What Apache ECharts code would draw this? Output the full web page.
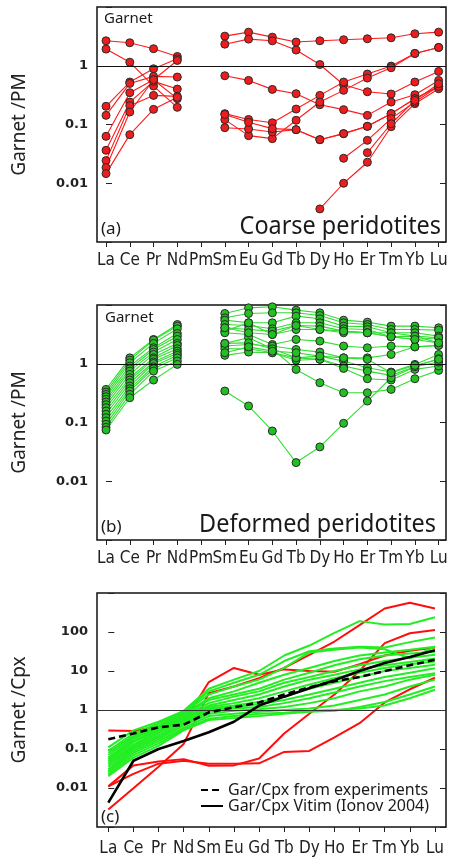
<!DOCTYPE html>
<html>
<head>
<meta charset="utf-8">
<script src="https://cdn.jsdelivr.net/npm/echarts@6/dist/echarts.min.js"></script>
<style>
html,body{margin:0;padding:0;background:#fff;}
#chart{width:449px;height:858px;}
</style>
</head>
<body>
<div id="chart"></div>
<script>
// ---------- DATA ----------
const ELEMENTS = ['La','Ce','Pr','Nd','Pm','Sm','Eu','Gd','Tb','Dy','Ho','Er','Tm','Yb','Lu'];
const ELEMENTS_C = ['La','Ce','Pr','Nd','Sm','Eu','Gd','Tb','Dy','Ho','Er','Tm','Yb','Lu'];
const TICKS_AB = ['0.01','0.1','1'];
const TICKS_C = ['0.01','0.1','1','10','100'];

// (a) Coarse peridotites, garnet / PM  (La..Lu, Pm missing)
const coarseGarnetPM = [
  [2.66,2.46,1.95,1.44,null, 3.19,3.73,3.07,2.53,2.66,2.77,2.88,2.99,3.50,3.73],
  [1.92,1.15,0.451,0.196,null, 2.33,2.84,2.66,1.85,1.05,0.475,0.361,0.330,0.528,0.801],
  [0.204,0.528,0.889,1.31,null, 0.676,0.563,0.396,0.334,0.217,0.179,0.143,0.241,0.321,0.563],
  [0.143,0.50,0.659,0.642,null, 0.153,0.122,0.107,0.183,0.313,0.528,0.722,0.987,1.62,2.05],
  [0.0629,0.348,0.578,1.23,null, 0.121,0.0646,0.0574,0.118,0.241,0.381,0.617,0.925,1.62,2.05],
  [0.0364,0.241,0.542,0.401,null, 0.0883,0.0839,0.0746,0.0817,0.0552,0.0699,0.0931,0.153,0.275,0.445],
  [0.0243,0.209,0.313,0.301,null, 0.148,0.109,0.0850,0.0817,0.0552,0.0699,0.0931,0.153,0.275,0.445],
  [0.0185,0.163,0.578,0.275,null, null,null,null,null,0.00366,0.0100,0.0228,0.0918,0.226,0.406],
  [0.0146,0.0672,0.181,0.290,null, null,null,null,null,null,0.0266,0.0538,0.126,0.241,0.445],
  [null,null,null,null,null, null,null,null,null,null,null,0.0332,0.103,0.257,0.494]
];

// (b) Deformed peridotites, garnet / PM
const deformedGarnetPM = [
  [0.366,1.26,2.59,4.66,null, 7.17,8.95,9.31,8.17,7.36,5.52,5.11,4.37,4.37,4.09],
  [0.330,1.15,2.53,4.37,null, 6.05,7.17,7.36,7.36,6.63,4.98,4.66,3.83,3.83,3.74],
  [0.301,1.04,2.22,3.94,null, 5.52,4.98,4.98,6.46,5.82,4.37,4.26,3.37,3.37,2.95],
  [0.275,0.913,1.87,3.28,null, 4.66,4.48,3.94,4.98,4.98,3.94,3.83,2.88,2.95,2.77],
  [0.248,0.822,1.75,2.95,null, 4.09,3.83,3.59,4.48,4.37,3.59,3.37,2.88,2.59,2.77],
  [0.223,0.750,1.58,2.59,null, 3.59,4.98,3.15,3.83,3.83,3.37,3.37,3.37,2.95,2.27],
  [0.201,0.659,1.44,2.22,null, 3.37,3.15,2.13,2.59,2.43,2.00,1.87,2.00,1.94,2.05],
  [0.179,0.578,1.26,2.05,null, 2.22,2.77,1.80,0.801,0.475,0.321,0.321,0.366,0.556,0.771],
  [0.157,0.528,1.19,1.80,null, 2.00,2.13,2.00,1.75,1.58,1.26,1.26,1.44,1.94,2.05],
  [0.138,0.475,1.07,1.64,null, 1.80,1.80,1.54,1.26,1.35,1.11,0.855,0.722,0.975,1.44],
  [0.121,0.417,1.01,1.50,null, 1.39,1.58,1.54,1.15,1.19,0.913,0.750,0.634,0.889,1.22],
  [0.106,0.376,0.889,1.39,null, 2.22,2.27,1.80,1.26,1.19,0.833,0.556,0.528,0.801,0.913],
  [0.0931,0.343,0.822,1.26,null, 0.343,0.191,0.0717,0.0208,0.0384,0.0968,0.232,0.578,0.889,1.07],
  [0.0828,0.301,0.750,1.11,null, 4.09,3.37,3.15,4.48,3.83,3.59,3.37,2.88,2.59,2.27],
  [0.0746,0.264,0.528,0.975,null, 1.54,1.94,1.64,1.54,1.35,1.26,1.19,0.703,0.937,1.19]
];

// (c) Garnet / Cpx (La..Lu without Pm)
const coarseGarCpx = [
  [0.30,0.29,0.38,0.48,5.2,12,8,11,10,9.5,15,25,33,40],
  [0.0028,0.0098,0.035,0.135,2.7,4,6.5,12,26,57,150,400,560,400],
  [0.011,0.038,0.048,0.055,0.037,0.038,0.057,0.25,0.8,2.5,10,52,93,113],
  [0.011,0.023,0.042,0.05,0.042,0.042,0.043,0.084,0.089,0.2,0.46,1.56,3.4,6.7]
];
const deformedGarCpx = [
  [0.11,0.30,0.5,0.95,3.5,6,10,25,45,95,190,155,160,240],
  [0.09,0.25,0.45,0.9,3,5,8,18,32,38,42,40,55,72],
  [0.08,0.22,0.4,0.85,2.5,4,6,12,30,35,40,36,21,42],
  [0.07,0.2,0.38,0.8,2,3,5,8,12,18,25,30,35,42],
  [0.06,0.18,0.35,0.75,1.8,2.5,3.5,6,9,14,20,25,28,31],
  [0.055,0.16,0.32,0.7,1.5,2.2,3,5,7,10,14,18,22,26],
  [0.05,0.15,0.3,0.65,1.3,1.8,2.5,4,6,8,11,14,17,21],
  [0.045,0.13,0.28,0.6,1.2,1.5,2,3,4.5,6.5,9,12,15,17.5],
  [0.04,0.12,0.25,0.55,1.1,1.3,1.6,2.2,3.5,5,7,10,12,14.4],
  [0.035,0.11,0.22,0.5,1.0,1.2,1.4,1.8,2.5,3.5,5,7,9,11.8],
  [0.03,0.1,0.2,0.45,0.9,1.1,1.2,1.5,2,2.8,4,5.5,7,8.8],
  [0.027,0.09,0.18,0.4,0.8,0.95,1.05,1.2,1.5,2,3,4,6,8],
  [0.025,0.08,0.16,0.35,0.7,0.8,0.9,1.0,1.1,1.3,1.8,2.5,4,6],
  [0.022,0.07,0.14,0.32,0.6,0.7,0.8,0.85,0.95,1.0,1.1,1.3,2,3.3],
  [0.02,0.06,0.12,0.3,0.55,0.62,0.7,0.8,0.9,0.95,1.2,1.6,2.5,4]
];
const garCpxExperiments = [0.177,0.25,0.36,0.42,0.87,1.17,1.56,2.5,3.8,5.5,7,10,14,19.5];
const garCpxVitim = [0.0042,0.05,0.1,0.16,0.27,0.5,1.3,2.2,3.6,5.8,10,16,23,34];

// ---------- CHART ----------
const FONT = 'Noto Sans';
const NARROW = '"Liberation Sans Narrow", "DejaVu Sans Condensed", "Noto Sans"';
const toPts = arr => arr.map((v, i) => [i, v == null ? '-' : v]);
const idx15 = ELEMENTS.map((_, i) => i);
const idx14 = ELEMENTS_C.map((_, i) => i);

function yFmt(allowed) {
  return v => {
    const e = Math.round(Math.log10(v));
    const s = e >= 0 ? String(Math.pow(10, e)) : '0.' + '0'.repeat(-e - 1) + '1';
    return allowed.indexOf(s) >= 0 ? s : '';
  };
}

function makeX(gi, names, idx, min, max, margin) {
  return {
    type: 'value', gridIndex: gi, min: min, max: max,
    axisLine: {show: false},
    splitLine: {show: false},
    axisTick: {show: true, inside: false, length: 5, customValues: idx, lineStyle: {color: '#222', width: 1}},
    axisLabel: {show: true, customValues: idx, margin: margin, formatter: v => names[Math.round(v)] || '',
                fontFamily: NARROW, fontSize: 17, color: '#222'}
  };
}
function makeY(gi, min, max, allowed, name, pos) {
  const left = pos === 'left';
  return {
    type: 'log', logBase: 10, gridIndex: gi, min: min, max: max, interval: 1, position: pos,
    axisLine: {show: false},
    splitLine: {show: false},
    minorTick: {show: false},
    axisTick: {show: true, inside: true, length: 6, lineStyle: {color: '#222', width: 1}},
    axisLabel: {show: left, margin: 9, formatter: yFmt(allowed), fontFamily: 'DejaVu Sans', fontSize: 13,
                fontWeight: 'bold', color: '#222'},
    name: left ? name : '', nameLocation: 'middle', nameGap: 68,
    nameTextStyle: {fontFamily: FONT, fontSize: 19, color: '#222'}
  };
}

const hLine = {
  silent: true, symbol: ['none', 'none'], label: {show: false},
  lineStyle: {color: '#111', width: 1.2, type: 'solid'},
  data: [{yAxis: 1}]
};

const series = [];
coarseGarnetPM.forEach((arr, k) => {
  series.push({
    type: 'line', xAxisIndex: 0, yAxisIndex: 0, data: toPts(arr),
    symbol: 'circle', symbolSize: 8, connectNulls: false,
    lineStyle: {color: '#ff1a1a', width: 1.1},
    itemStyle: {color: '#ee1c1c', borderColor: '#2a2a2a', borderWidth: 1},
    markLine: k === 0 ? hLine : undefined, z: 3, animation: false
  });
});
deformedGarnetPM.forEach((arr, k) => {
  series.push({
    type: 'line', xAxisIndex: 1, yAxisIndex: 2, data: toPts(arr),
    symbol: 'circle', symbolSize: 8, connectNulls: false,
    lineStyle: {color: '#33dd33', width: 1.1},
    itemStyle: {color: '#22c022', borderColor: '#2a2a2a', borderWidth: 1},
    markLine: k === 0 ? hLine : undefined, z: 3, animation: false
  });
});
coarseGarCpx.forEach((arr, k) => {
  series.push({
    type: 'line', xAxisIndex: 2, yAxisIndex: 4, data: toPts(arr),
    symbol: 'none', lineStyle: {color: '#ff0d0d', width: 2},
    markLine: k === 0 ? {
      silent: true, symbol: ['none', 'none'], label: {show: false},
      lineStyle: {color: '#333', width: 1, type: 'solid'}, data: [{yAxis: 1}]
    } : undefined,
    z: 2, animation: false
  });
});
deformedGarCpx.forEach(arr => {
  series.push({
    type: 'line', xAxisIndex: 2, yAxisIndex: 4, data: toPts(arr),
    symbol: 'none', lineStyle: {color: '#22ee22', width: 2}, z: 3, animation: false
  });
});
series.push({
  name: 'Gar/Cpx from experiments', type: 'line', xAxisIndex: 2, yAxisIndex: 4,
  data: toPts(garCpxExperiments), symbol: 'none',
  lineStyle: {color: '#000', width: 2.6, type: [7, 4]}, itemStyle: {color: '#000'}, z: 5, animation: false
});
series.push({
  name: 'Gar/Cpx Vitim (Ionov 2004)', type: 'line', xAxisIndex: 2, yAxisIndex: 4,
  data: toPts(garCpxVitim), symbol: 'none',
  lineStyle: {color: '#000', width: 2.6}, itemStyle: {color: '#000'}, z: 5, animation: false
});

const txt = (t, x, y, size, align, sx) => ({
  type: 'text', x: x, y: y, z: 10, scaleX: sx || 1,
  style: {text: t, fill: '#1a1a1a', fontFamily: FONT, fontSize: size, align: align || 'left', verticalAlign: 'middle'}
});

const gridBase = {left: 97, width: 349, show: true, borderColor: '#111', borderWidth: 1.5,
                  backgroundColor: 'transparent', containLabel: false, outerBoundsMode: 'none'};

const option = {
  animation: false,
  backgroundColor: '#fff',
  grid: [
    Object.assign({}, gridBase, {top: 7, height: 235}),
    Object.assign({}, gridBase, {top: 305, height: 235}),
    Object.assign({}, gridBase, {top: 593, height: 234})
  ],
  xAxis: [
    makeX(0, ELEMENTS, idx15, -0.38, 14.31, 10),
    makeX(1, ELEMENTS, idx15, -0.38, 14.31, 10),
    makeX(2, ELEMENTS_C, idx14, -0.45, 13.44, 13)
  ],
  yAxis: [
    makeY(0, 0.001, 10, TICKS_AB, 'Garnet /PM', 'left'),
    makeY(0, 0.001, 10, TICKS_AB, '', 'right'),
    makeY(1, 0.001, 10, TICKS_AB, 'Garnet /PM', 'left'),
    makeY(1, 0.001, 10, TICKS_AB, '', 'right'),
    makeY(2, 0.001, 1000, TICKS_C, 'Garnet /Cpx', 'left'),
    makeY(2, 0.001, 1000, TICKS_C, '', 'right')
  ],
  legend: {
    show: true, orient: 'vertical', left: 200, top: 782,
    data: ['Gar/Cpx from experiments', 'Gar/Cpx Vitim (Ionov 2004)'],
    itemWidth: 22, itemHeight: 14, itemGap: 0, padding: 0,
    itemStyle: {color: 'rgba(0,0,0,0)', borderWidth: 0, opacity: 0},
    textStyle: {fontFamily: FONT, fontSize: 16, color: '#1a1a1a'},
    selectedMode: false
  },
  graphic: [
    txt('Garnet', 104, 19, 15),
    txt('(a)', 101, 229, 17),
    txt('Coarse peridotites', 441, 227, 26, 'right', 0.9),
    txt('Garnet', 105, 318, 15),
    txt('(b)', 101, 527, 17),
    txt('Deformed peridotites', 436, 525, 26, 'right', 0.9),
    txt('(c)', 101, 817, 17)
  ],
  series: series
};

const chart = echarts.init(document.getElementById('chart'), null, {renderer: 'canvas'});
chart.setOption(option);
</script>
</body>
</html>
